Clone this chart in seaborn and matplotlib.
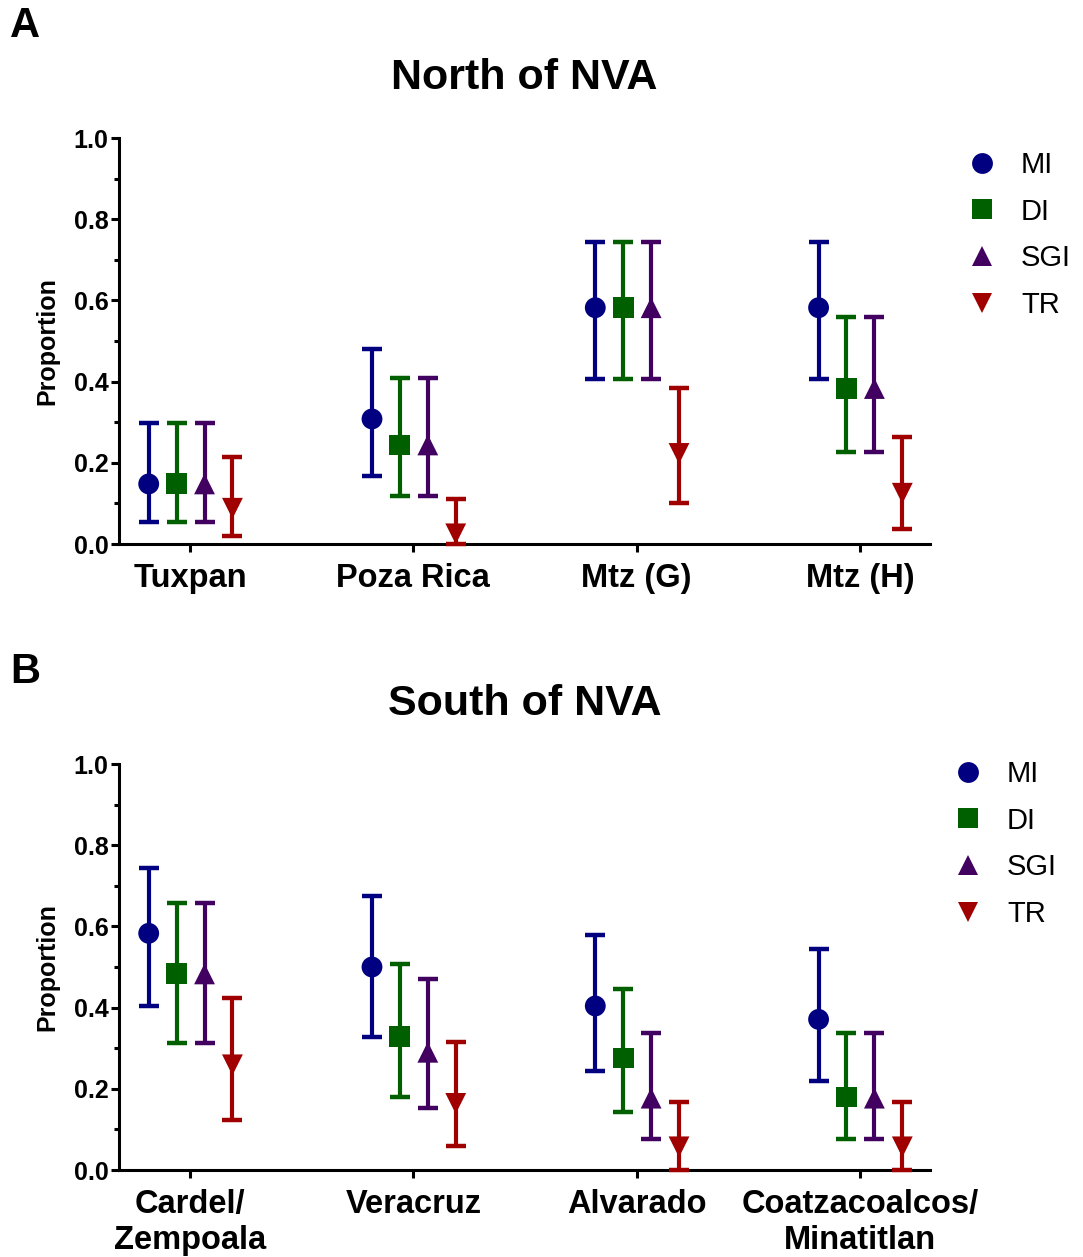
import numpy as np
import pandas as pd
import matplotlib
matplotlib.use("Agg")
import matplotlib.pyplot as plt
from matplotlib.lines import Line2D
import seaborn as sns

sns.set_theme(style="ticks")
plt.rcParams['font.family'] = ['Liberation Sans', 'DejaVu Sans']
plt.rcParams['text.color'] = 'black'
plt.rcParams['axes.labelcolor'] = 'black'
plt.rcParams['xtick.color'] = 'black'
plt.rcParams['ytick.color'] = 'black'

# ---------------- data ----------------
series = ["MI", "DI", "SGI", "TR"]

north_sites = ["Tuxpan", "Poza Rica", "Mtz (G)", "Mtz (H)"]
north_MI = [0.148, 0.308, 0.582, 0.582]
north_MI_lo = [0.054, 0.167, 0.406, 0.406]
north_MI_hi = [0.298, 0.480, 0.744, 0.744]
north_DI = [0.148, 0.244, 0.582, 0.383]
north_DI_lo = [0.054, 0.118, 0.406, 0.226]
north_DI_hi = [0.298, 0.410, 0.744, 0.560]
north_SGI = [0.148, 0.244, 0.582, 0.383]
north_SGI_lo = [0.054, 0.118, 0.406, 0.226]
north_SGI_hi = [0.298, 0.410, 0.744, 0.560]
north_TR = [0.088, 0.025, 0.223, 0.125]
north_TR_lo = [0.020, 0.000, 0.100, 0.038]
north_TR_hi = [0.214, 0.110, 0.385, 0.264]

south_sites = ["Cardel/\nZempoala", "Veracruz", "Alvarado", "Coatzacoalcos/\nMinatitlan"]
south_MI = [0.583, 0.500, 0.404, 0.371]
south_MI_lo = [0.405, 0.327, 0.245, 0.219]
south_MI_hi = [0.745, 0.675, 0.578, 0.545]
south_DI = [0.483, 0.328, 0.276, 0.180]
south_DI_lo = [0.314, 0.179, 0.144, 0.076]
south_DI_hi = [0.657, 0.508, 0.446, 0.337]
south_SGI = [0.483, 0.290, 0.177, 0.177]
south_SGI_lo = [0.314, 0.152, 0.076, 0.076]
south_SGI_hi = [0.657, 0.471, 0.337, 0.337]
south_TR = [0.259, 0.164, 0.057, 0.057]
south_TR_lo = [0.123, 0.059, 0.000, 0.000]
south_TR_hi = [0.423, 0.315, 0.167, 0.167]

# ---------------- styles ----------------
colors = {"MI": "#000080", "DI": "#006000", "SGI": "#420060", "TR": "#A00000"}
markers = {"MI": "o", "DI": "s", "SGI": "^", "TR": "v"}
offsets = {"MI": -0.185, "DI": -0.06, "SGI": 0.065, "TR": 0.19}


def build_df(sites, vals, los, his):
    rows = []
    for s in series:
        for i, site in enumerate(sites):
            rows.append(dict(site=site, idx=i, series=s,
                             x=i + offsets[s], y=vals[s][i],
                             lo=los[s][i], hi=his[s][i]))
    return pd.DataFrame(rows)


north_df = build_df(north_sites,
                    {"MI": north_MI, "DI": north_DI, "SGI": north_SGI, "TR": north_TR},
                    {"MI": north_MI_lo, "DI": north_DI_lo, "SGI": north_SGI_lo, "TR": north_TR_lo},
                    {"MI": north_MI_hi, "DI": north_DI_hi, "SGI": north_SGI_hi, "TR": north_TR_hi})
south_df = build_df(south_sites,
                    {"MI": south_MI, "DI": south_DI, "SGI": south_SGI, "TR": south_TR},
                    {"MI": south_MI_lo, "DI": south_DI_lo, "SGI": south_SGI_lo, "TR": south_TR_lo},
                    {"MI": south_MI_hi, "DI": south_DI_hi, "SGI": south_SGI_hi, "TR": south_TR_hi})

W, H = 1083, 1257
fig = plt.figure(figsize=(W / 100, H / 100), dpi=100)

ax_left = 119 / W
ax_w = (930 - 119) / W
ax_h = 406 / H
axA = fig.add_axes([ax_left, 1 - 544 / H, ax_w, ax_h])
axB = fig.add_axes([ax_left, 1 - 1170 / H, ax_w, ax_h])


def draw(ax, df, sites, title, legend_anchor):
    for s in series:
        d = df[df.series == s]
        ax.errorbar(d.x, d.y, yerr=[d.y - d.lo, d.hi - d.y], fmt="none",
                    ecolor=colors[s], elinewidth=3.0, capsize=7.5, capthick=3.2,
                    clip_on=False, zorder=3)
    sns.scatterplot(data=df, x="x", y="y", hue="series", style="series",
                    palette=colors, markers=markers, s=225, linewidth=0,
                    legend=False, ax=ax, zorder=4, clip_on=False)
    ax.set_xlim(-0.318, 3.314)
    ax.set_ylim(0, 1.0)
    ax.set_xticks(range(len(sites)))
    ax.set_xticklabels(sites, fontsize=23.5, fontweight="bold")
    ax.set_yticks(np.arange(0, 1.01, 0.2))
    ax.set_yticks(np.arange(0.1, 1.0, 0.2), minor=True)
    ax.set_yticklabels([f"{v:.1f}" for v in np.arange(0, 1.01, 0.2)],
                       fontsize=18, fontweight="bold")
    ax.set_xlabel("")
    ax.set_ylabel("Proportion", fontsize=18, fontweight="bold", labelpad=10)
    ax.set_title(title, fontsize=31, fontweight="bold", pad=35)
    sns.despine(ax=ax)
    for sp in ["left", "bottom"]:
        ax.spines[sp].set_linewidth(2.2)
        ax.spines[sp].set_color("black")
    ax.tick_params(axis="both", which="major", length=5.5, width=2.2,
                   color="black", direction="out")
    ax.tick_params(axis="y", which="major", pad=2)
    ax.tick_params(axis="x", which="major", pad=8.5)
    ax.tick_params(axis="y", which="minor", length=3.5, width=2.2, color="black")
    handles = [Line2D([], [], linestyle="none", marker=markers[s], color=colors[s],
                      markersize=15, markeredgewidth=0) for s in series]
    ax.legend(handles, series, loc="upper left", bbox_to_anchor=legend_anchor,
              bbox_transform=fig.transFigure, frameon=False, fontsize=21,
              borderpad=0, borderaxespad=0, handlelength=1.0,
              handletextpad=0.85, labelspacing=0.64)


draw(axA, north_df, north_sites, "North of NVA", (967 / W, 1 - 151 / H))
draw(axB, south_df, south_sites, "South of NVA", (953 / W, 1 - 760 / H))

fig.text(10 / W, 1 - 37 / H, "A", fontsize=30, fontweight="bold", ha="left", va="baseline")
fig.text(10 / W, 1 - 683 / H, "B", fontsize=30, fontweight="bold", ha="left", va="baseline")

fig.savefig("out.png", dpi=100)
